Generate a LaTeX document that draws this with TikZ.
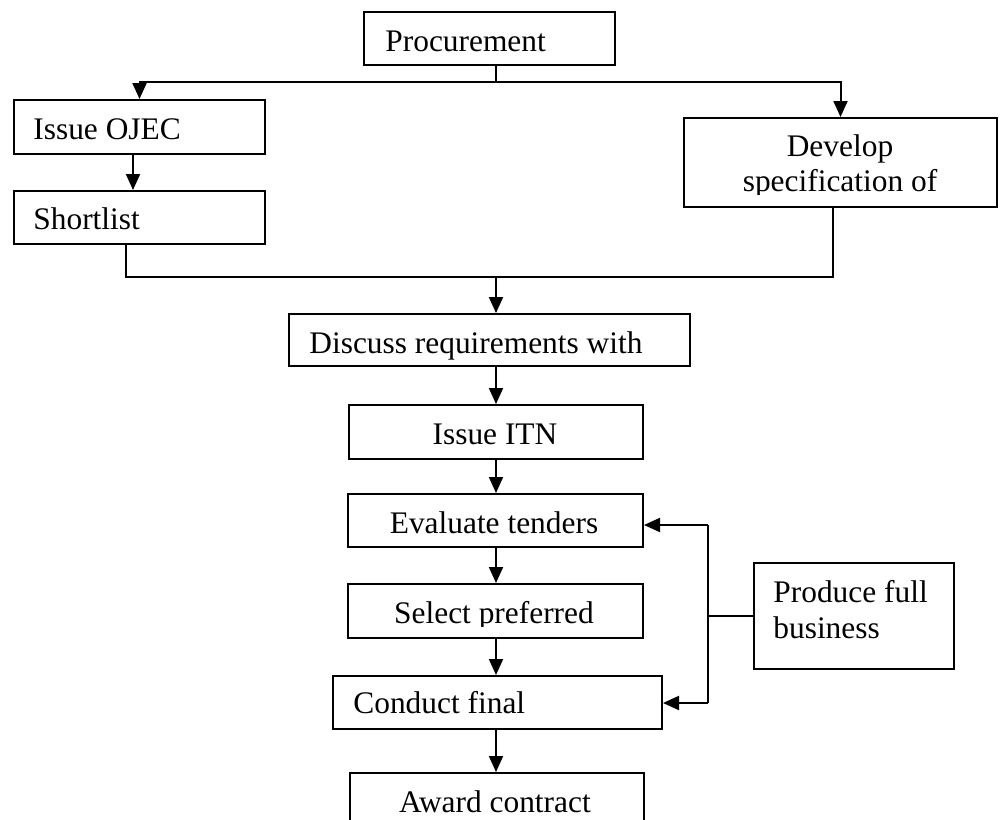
\documentclass[tikz,border=0pt]{standalone}
\usepackage{fontspec}
\setmainfont{Liberation Serif}
\usetikzlibrary{arrows.meta}
\begin{document}
\begin{tikzpicture}[x=0.5pt,y=-0.5pt,
  box/.style={draw,line width=1pt,rectangle,inner sep=0pt,anchor=north west},
  lbl/.style={font=\fontsize{15.7pt}{17.5pt}\selectfont,inner sep=0pt},
  line/.style={line width=1pt},
  arrow/.style={line width=1pt,-{Triangle[length=8pt,width=7pt]}}]
\clip (0,0) rectangle (1003,820);

% boxes
\node[box,minimum width=125.5pt,minimum height=26.5pt] (proc)  at (363,11)  {};
\node[box,minimum width=125.5pt,minimum height=27pt]   (ojec)  at (13,99)   {};
\node[box,minimum width=125.5pt,minimum height=26.5pt] (short) at (13,190)  {};
\node[box,minimum width=156.5pt,minimum height=44.5pt] (dev)   at (683,117) {};
\node[box,minimum width=200.5pt,minimum height=26pt]   (disc)  at (288,313) {};
\node[box,minimum width=147pt,  minimum height=27pt]   (itn)   at (348,404) {};
\node[box,minimum width=147.5pt,minimum height=26.5pt] (eval)  at (347,493) {};
\node[box,minimum width=147.5pt,minimum height=27pt]   (sel)   at (347,583) {};
\node[box,minimum width=164.5pt,minimum height=26.5pt] (cond)  at (332,675) {};
\node[box,minimum width=147pt,  minimum height=30pt]   (award) at (349,772) {};
\node[box,minimum width=100pt,  minimum height=53pt]   (prod)  at (753,562) {};

% labels
\node[lbl,anchor=base west] (tproc)  at (385,51)  {Procurement};
\node[lbl,anchor=base west] (tojec)  at (33,139)  {Issue OJEC};
\node[lbl,anchor=base west] (tshort) at (33,229)  {Shortlist};
\begin{scope}
  \clip (683,117) rectangle (996,194);
  \node[lbl,anchor=base] (tdev1) at (840,156) {Develop};
  \node[lbl,anchor=base] (tdev2) at (840,191) {specification of};
\end{scope}
\node[lbl,anchor=base west] (tdisc)  at (309,353) {Discuss requirements with};
\node[lbl,anchor=base] (titn)   at (495,444) {Issue ITN};
\node[lbl,anchor=base] (teval)  at (494,533) {Evaluate tenders};
\begin{scope}
  \clip (347,583) rectangle (642,626);
  \node[lbl,anchor=base] (tsel) at (494,623) {Select preferred};
\end{scope}
\node[lbl,anchor=base west] (tcond)  at (353,713) {Conduct final};
\node[lbl,anchor=base] (taward) at (495,812) {Award contract};
\node[lbl,anchor=base west] (tprod1) at (773,602) {Produce full};
\node[lbl,anchor=base west] (tprod2) at (773,638) {business};

% top split
\coordinate (split) at (496,82);
\draw[line] (split |- proc.south) -- (split);
\draw[arrow] (split) -| (ojec.north);
\draw[arrow] (split) -| (dev.north);

% left branch
\coordinate (oj) at (133,0);
\draw[arrow] (oj |- ojec.south) -- (oj |- short.north);

% merge into the main column
\coordinate (join) at (496,277);
\coordinate (sl) at (126,0);
\coordinate (dl) at (833,0);
\draw[line] (sl |- short.south) -- (sl |- join) -- (dl |- join) -- (dl |- dev.south);
\draw[arrow] (join) -- (join |- disc.north);

% main column
\coordinate (sp) at (496,0);
\draw[arrow] (sp |- disc.south) -- (sp |- itn.north);
\draw[arrow] (sp |- itn.south)  -- (sp |- eval.north);
\draw[arrow] (sp |- eval.south) -- (sp |- sel.north);
\draw[arrow] (sp |- sel.south)  -- (sp |- cond.north);
\draw[arrow] (sp |- cond.south) -- (sp |- award.north);

% business case feeding back
\coordinate (fbt) at (708,525);
\coordinate (fbb) at (708,703);
\draw[line] (prod.west) -- (fbt |- prod.west);
\draw[line] (fbt) -- (fbb);
\draw[arrow] (fbt) -- (fbt -| eval.east);
\draw[arrow] (fbb) -- (fbb -| cond.east);
\end{tikzpicture}
\end{document}
